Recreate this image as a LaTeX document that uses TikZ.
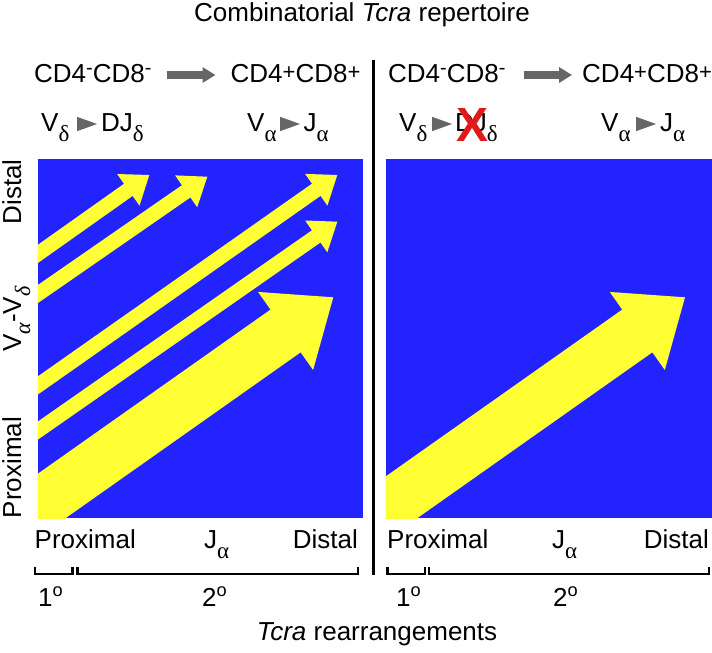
\documentclass[tikz,border=0pt]{standalone}
\usepackage{fontspec}
\setmainfont{Liberation Sans}
\newfontfamily\grkfont{Liberation Serif}
\usetikzlibrary{calc,arrows.meta}
\definecolor{pblue}{RGB}{35,35,255}
\definecolor{pyel}{RGB}{255,255,51}
\definecolor{agray}{RGB}{102,102,102}
\definecolor{xred}{RGB}{225,25,25}
\newcommand{\mysub}[1]{\raisebox{-10pt}{\grkfont\fontsize{23}{23}\selectfont #1}}
\newcommand{\myisub}[1]{\raisebox{-9pt}{\grkfont\itshape\fontsize{22}{22}\selectfont #1}}
\newcommand{\mysupm}{\raisebox{8pt}{\fontsize{20}{20}\selectfont -}}
\newcommand{\mysupp}{\raisebox{3pt}{\fontsize{22}{22}\selectfont +}}
% tip x, tip y, angle, shaft width, head width, head length
\newcommand{\yarrow}[6]{%
  \fill[pyel, shift={(#1,#2)}, rotate=#3]
    (0,0) -- (-#6,#5/2) -- (-#6,#4/2) -- (-700,#4/2) -- (-700,-#4/2)
    -- (-#6,-#4/2) -- (-#6,-#5/2) -- cycle;}
\begin{document}
\begin{tikzpicture}[x=1pt,y=-1pt,
  lbl/.style={inner sep=0pt, font=\fontsize{26}{30}\selectfont},
  grayarrow/.style={agray, line width=8pt, -{Triangle[length=13pt,width=15pt]}},
  brack/.style={line width=2.8pt, line cap=butt},
  tri/.style={fill=agray}]
\useasboundingbox (0,0) rectangle (712,653);
% title
\node[lbl, anchor=base] (title) at (362,21) {Combinatorial \textit{Tcra} repertoire};
% panels
\fill[pblue] (37.7,159.3) rectangle (362.7,518.3);
\fill[pblue] (385.7,159.3) rectangle (711.7,518.3);
\begin{scope}
  \clip (37.7,159.3) rectangle (362.7,518.3);
  \yarrow{149.3}{175}{35.3}{14.9}{38.8}{25.7}
  \yarrow{207.3}{176.7}{34.7}{14.9}{38.8}{25.7}
  \yarrow{337.3}{175}{35.1}{14.9}{38.8}{25.7}
  \yarrow{337.3}{221.7}{34.9}{14.9}{38.8}{25.7}
  \yarrow{333.3}{297.3}{35.2}{52.3}{95.5}{58.4}
\end{scope}
\begin{scope}
  \clip (385.7,159.3) rectangle (711.7,518.3);
  \yarrow{685}{297.3}{35.2}{52.3}{95.5}{58.4}
\end{scope}
% divider
\draw[line width=3pt] (373.5,60) -- (373.5,575);
% stage row
\node[lbl, anchor=base west] (dnL) at (34,82) {CD4\mysupm CD8\mysupm};
\node[lbl, anchor=base west] (dpL) at (230.5,82) {CD4\mysupp CD8\mysupp};
\node[lbl, anchor=base west] (dnR) at (388,82) {CD4\mysupm CD8\mysupm};
\node[lbl, anchor=base west] (dpR) at (582,82) {CD4\mysupp CD8\mysupp};
\draw[grayarrow] (166.7,75) -- (215.5,75);
\draw[grayarrow] (523.5,75) -- (572,75);
% rearrangement row
\node[lbl, anchor=base west] (vdL) at (41,131) {V\mysub{δ}};
\node[lbl, anchor=base west] (djL) at (101,131) {DJ\mysub{δ}};
\node[lbl, anchor=base west] (vaL) at (247,131) {V\mysub{α}};
\node[lbl, anchor=base west] (jaL) at (303.5,131) {J\mysub{α}};
\node[lbl, anchor=base west] (vdR) at (399,131) {V\mysub{δ}};
\node[lbl, anchor=base west] (djR) at (455,131) {DJ\mysub{δ}};
\node[lbl, anchor=base west] (vaR) at (601,131) {V\mysub{α}};
\node[lbl, anchor=base west] (jaR) at (660,131) {J\mysub{α}};
\fill[agray] (77,116.8) -- (97,124) -- (77,131.2) -- cycle;
\fill[agray] (280,116.8) -- (300,124) -- (280,131.2) -- cycle;
\fill[agray] (432,116.8) -- (452,124) -- (432,131.2) -- cycle;
\fill[agray] (636,116.8) -- (656,124) -- (636,131.2) -- cycle;
\node[inner sep=0pt, text=xred, font=\bfseries\fontsize{48}{48}\selectfont] (xmark) at (472.5,124.5) {X};
% vertical axis labels
\node[lbl, rotate=90, anchor=base east] (ydist) at (21,159.3) {Distal};
\node[lbl, rotate=90, anchor=base] (yva) at (21,319) {V\myisub{α}-V\myisub{δ}};
\node[lbl, rotate=90, anchor=base west] (yprox) at (21,518.3) {Proximal};
% horizontal axis labels
\node[lbl, anchor=base west] (xpL) at (34.5,548) {Proximal};
\node[lbl, anchor=base west] (xjL) at (204,548) {J\mysub{α}};
\node[lbl, anchor=base east] (xdL) at (358,548) {Distal};
\node[lbl, anchor=base west] (xpR) at (387,548) {Proximal};
\node[lbl, anchor=base west] (xjR) at (552,548) {J\mysub{α}};
\node[lbl, anchor=base east] (xdR) at (709,548) {Distal};
% brackets
\draw[brack] (35,566.5) -- (35,574) -- (72.5,574) -- (72.5,566.5);
\draw[brack] (77.5,566.5) -- (77.5,574) -- (358,574) -- (358,566.5);
\draw[brack] (387.5,566.5) -- (387.5,574) -- (425,574) -- (425,566.5);
\draw[brack] (429,566.5) -- (429,574) -- (709,574) -- (709,566.5);
\node[lbl, anchor=base west] (p1L) at (38,606) {1\textsuperscript{o}};
\node[lbl, anchor=base west] (p2L) at (202,606) {2\textsuperscript{o}};
\node[lbl, anchor=base west] (p1R) at (396,606) {1\textsuperscript{o}};
\node[lbl, anchor=base west] (p2R) at (553,606) {2\textsuperscript{o}};
\node[lbl, anchor=base] (xtitle) at (377,640) {\textit{Tcra} rearrangements};
\end{tikzpicture}
\end{document}
